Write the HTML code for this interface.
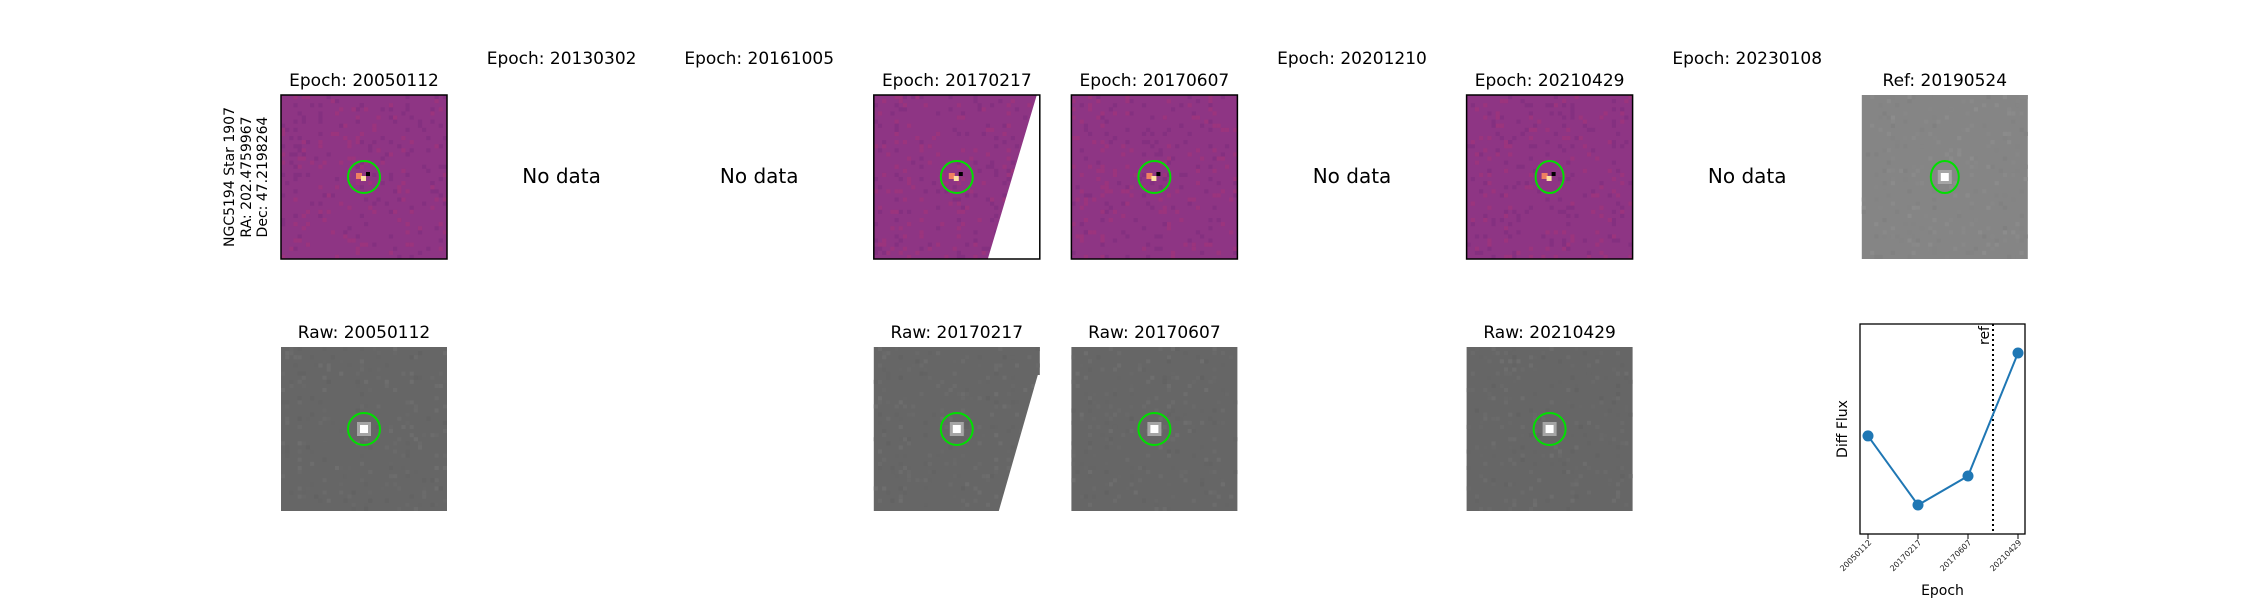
<!DOCTYPE html>
<html><head><meta charset="utf-8"><style>
html,body{margin:0;padding:0;background:#fff;}
svg{display:block;font-family:"DejaVu Sans","Liberation Sans",sans-serif;}
</style></head><body>
<svg id="fig" width="2250" height="600" viewBox="0 0 2250 600" xmlns="http://www.w3.org/2000/svg">
<g font-size="14" fill="#000" text-anchor="middle">
<text transform="translate(234,177) rotate(-90)">NGC5194 Star 1907</text>
<text transform="translate(251,177) rotate(-90)">RA: 202.4759967</text>
<text transform="translate(267,177) rotate(-90)">Dec: 47.2198264</text>
</g>
<g id="panels"></g>
<g id="lc"></g>
</svg>
<script>
const epochs=["20050112","20130302","20161005","20170217","20170607","20201210","20210429","20230108"];
const hasData=[true,false,false,true,true,false,true,false];
const lcCategories=["20050112","20170217","20170607","20210429"];
const lcValues=[46.7,13.8,27.6,86.2];
const refPos=2.5;
const NS="http://www.w3.org/2000/svg";
function el(tag,attrs,parent){const e=document.createElementNS(NS,tag);for(const k in attrs)e.setAttribute(k,attrs[k]);parent.appendChild(e);return e;}
const panels=document.getElementById('panels');
const W=166,H=164,TOP=95,BTOP=347;
function cx(i){return 364+197.6*i;}
let seed=7;function rnd(){seed=(seed*9301+49297)%233280;return seed/233280;}
function texture(g,x,y,base,isGray){
  const n=40,s=W/n,sh=H/n;
  for(let k=0;k<260;k++){
    const px=Math.floor(rnd()*n),py=Math.floor(rnd()*n);const r=rnd();
    let c;
    if(isGray){const v=Math.round(base+(r-0.5)*12);c=`rgb(${v},${v},${v})`;}
    else{c=r<0.5?'rgb(132,48,128)':'rgb(155,52,125)';}
    el('rect',{x:x+px*s,y:y+py*sh,width:s,height:sh,fill:c},g);
  }
}
function star(g,x,y,gray){
  const c=x+W/2,m=y+H/2;
  if(gray){
    el('rect',{x:c-7,y:m-7,width:14,height:14,fill:'#a5a5a5'},g);
    el('rect',{x:c-4,y:m-4,width:8,height:8,fill:'#fff'},g);
  }else{
    el('rect',{x:c-8,y:m-4,width:6,height:6,fill:'#f08060'},g);
    el('rect',{x:c-3,y:m-1,width:5,height:5,fill:'#fde0a0'},g);
    el('rect',{x:c+2,y:m-5,width:4,height:4,fill:'#000'},g);
  }
}
function circle(g,x,y,ell){
  el('ellipse',{cx:x+W/2,cy:y+H/2,rx:ell?14:16,ry:16,fill:'none',stroke:'#00e000','stroke-width':2},g);
}
epochs.forEach((ep,i)=>{
  const g=el('g',{},panels);
  
  
  const x=cx(i)-W/2;
  if(hasData[i]){
    const t=el('text',{x:cx(i),y:86,'font-size':17,'text-anchor':'middle'},g);t.textContent='Epoch: '+ep;
    
    
    const im=el('g',{},g);
    
    
    el('rect',{x:x,y:TOP,width:W,height:H,fill:'#8e3584'},im);
    texture(im,x,TOP,0,false);
    star(im,x,TOP,false);
    if(ep==='20170217'){el('polygon',{points:`${x+W-3},${TOP} ${x+W},${TOP} ${x+W},${TOP+H} ${x+114},${TOP+H}`,fill:'#fff'},im);}
    el('rect',{x:x,y:TOP,width:W,height:H,fill:'none',stroke:'#000','stroke-width':1.5},im);
    circle(im,x,TOP,ep==='20210429');
    const t2=el('text',{x:cx(i),y:338,'font-size':17,'text-anchor':'middle'},g);t2.textContent='Raw: '+ep;
    
    
    const rm=el('g',{},g);
    
    
    el('rect',{x:x,y:BTOP,width:W,height:H,fill:'#666'},rm);
    texture(rm,x,BTOP,104,true);
    star(rm,x,BTOP,true);
    if(ep==='20170217'){el('polygon',{points:`${x+W-2},${BTOP+28} ${x+W+1},${BTOP+28} ${x+W+1},${BTOP+H} ${x+125},${BTOP+H}`,fill:'#fff'},rm);}
    circle(rm,x,BTOP,false);
  }else{
    const t=el('text',{x:cx(i),y:64,'font-size':17,'text-anchor':'middle'},g);t.textContent='Epoch: '+ep;
    
    
    const nd=el('text',{x:cx(i),y:183,'font-size':20,'text-anchor':'middle'},g);nd.textContent='No data';
    
    
  }
});
(function(){
  const i=8,x=cx(i)-W/2;const g=el('g',{},panels);
  
  
  const t=el('text',{x:cx(i),y:86,'font-size':17,'text-anchor':'middle'},g);t.textContent='Ref: 20190524';
  el('rect',{x:x,y:TOP,width:W,height:H,fill:'#858585'},g);
  texture(g,x,TOP,134,true);
  star(g,x,TOP,true);
  circle(g,x,TOP,true);
})();
(function(){
  const lc=document.getElementById('lc');
  const L=1860,R=2025,T=324,B=534;
  const xmin=-0.16,xmax=3.14,ymin=0,ymax=100;
  const xs=i=>L+(i-xmin)/(xmax-xmin)*(R-L);
  const ys=v=>B-(v-ymin)/(ymax-ymin)*(B-T);
  const ax=el('rect',{x:L,y:T,width:R-L,height:B-T,fill:'none',stroke:'#000','stroke-width':1.3},lc);
  
  
  const rl=el('line',{x1:xs(refPos),x2:xs(refPos),y1:T,y2:B,stroke:'#000','stroke-width':2,'stroke-dasharray':'2,3'},lc);
  
  
  const rt=el('text',{transform:`translate(${xs(refPos)-4},${T+2}) rotate(-90)`,'font-size':14,'text-anchor':'end'},lc);rt.textContent='ref';
  
  
  const pts=lcValues.map((v,i)=>xs(i)+','+ys(v)).join(' ');
  const pl=el('polyline',{points:pts,fill:'none',stroke:'#1f77b4','stroke-width':2},lc);
  
  
  lcValues.forEach((v,i)=>{
    const c=el('circle',{cx:xs(i),cy:ys(v),r:5.5,fill:'#1f77b4'},lc);
    
    
    el('line',{x1:xs(i),x2:xs(i),y1:B,y2:B+5,stroke:'#000','stroke-width':1},lc);
    const tl=el('text',{transform:`translate(${xs(i)+4},${B+9}) rotate(-45)`,'font-size':8,'text-anchor':'end',fill:'#222'},lc);tl.textContent=lcCategories[i];
    
    
  });
  const xt=el('text',{x:(L+R)/2,y:595,'font-size':14,'text-anchor':'middle'},lc);xt.textContent='Epoch';
  
  
  const yt=el('text',{transform:`translate(1847,${(T+B)/2}) rotate(-90)`,'font-size':14,'text-anchor':'middle'},lc);yt.textContent='Diff Flux';
  
  
})();
</script>
</body></html>
